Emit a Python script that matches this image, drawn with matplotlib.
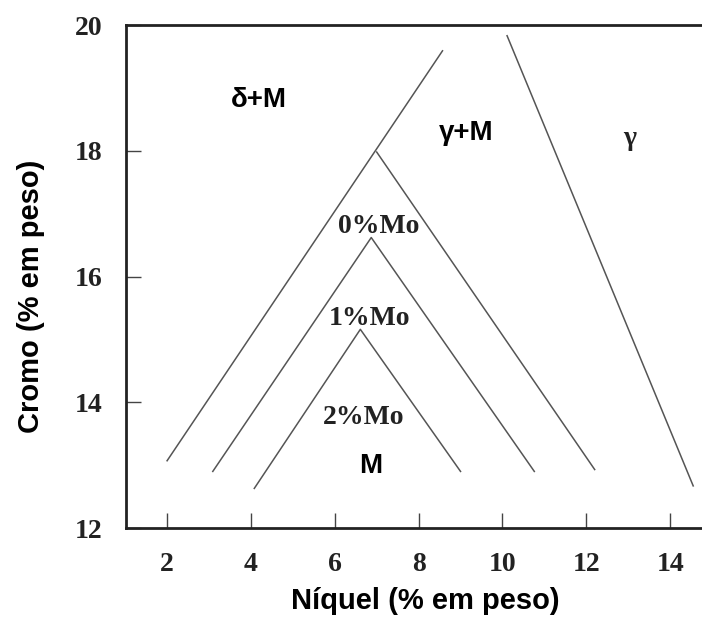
import matplotlib.pyplot as plt

# boundary lines (Ni, Cr)
outer_ni = [2.0, 8.57]
outer_cr = [13.07, 19.59]
mo0_ni = [7.0, 12.2]
mo0_cr = [17.98, 12.93]
mo1_ni = [3.09, 6.87, 10.76]
mo1_cr = [12.9, 16.62, 12.9]
mo2_ni = [4.08, 6.61, 9.0]
mo2_cr = [12.63, 15.16, 12.9]
gamma_ni = [10.11, 14.55]
gamma_cr = [19.83, 12.67]

xticks = [2, 4, 6, 8, 10, 12, 14]
yticks = [12, 14, 16, 18, 20]

fig = plt.figure(figsize=(7.02, 6.18), dpi=100)
ax = fig.add_axes([0.1795, 0.1456, 0.8205, 0.8139])

lc = '#555555'
for xs, ys in [(outer_ni, outer_cr), (mo0_ni, mo0_cr), (mo1_ni, mo1_cr),
               (mo2_ni, mo2_cr), (gamma_ni, gamma_cr)]:
    ax.plot(xs, ys, color=lc, lw=1.1)

ax.set_xlim(1.02, 14.76)
ax.set_ylim(12, 20)
ax.set_xticks(xticks)
ax.set_yticks(yticks)
ax.tick_params(direction='in', length=11, width=1, colors='#444444', pad=17)
for lab in ax.get_xticklabels() + ax.get_yticklabels():
    lab.set_family('Liberation Serif')
    lab.set_fontweight('bold')
    lab.set_fontsize(20)
    lab.set_color('#222222')

ax.spines['right'].set_visible(False)
for s in ['left', 'top', 'bottom']:
    ax.spines[s].set_linewidth(2)
    ax.spines[s].set_color('#222222')

sans = dict(family='Liberation Sans', fontweight='bold', fontsize=20,
            ha='center', va='center')
serif = dict(family='Liberation Serif', fontweight='bold', fontsize=20,
             ha='center', va='center', color='#222222')
ax.text(4.18, 18.8, 'δ+M', **sans)
ax.text(9.13, 18.29, 'γ+M', **sans)
ax.text(13.03, 18.2, 'γ', **serif)
ax.text(6.86, 12.98, 'M', **sans)
ax.text(7.04, 16.79, '0%Mo', **serif)
ax.text(6.84, 15.34, '1%Mo', **serif)
ax.text(6.69, 13.75, '2%Mo', **serif)

ax.set_xlabel('Níquel (% em peso)', family='Liberation Sans',
              fontweight='bold', fontsize=21)
ax.set_ylabel('Cromo (% em peso)', family='Liberation Sans',
              fontweight='bold', fontsize=21)
ax.xaxis.set_label_coords(0.52, -0.117)
ax.yaxis.set_label_coords(-0.14, 0.461)

fig.savefig('out.png', dpi=100)
